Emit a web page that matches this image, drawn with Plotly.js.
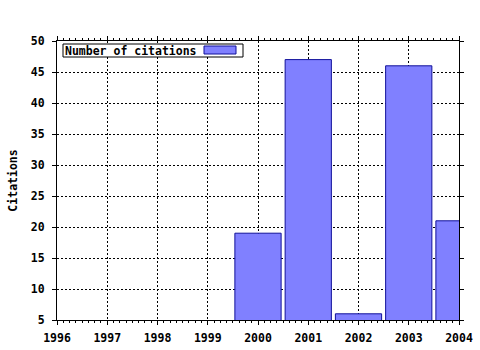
<!DOCTYPE html>
<html>
<head>
<meta charset="utf-8">
<script src="https://cdn.plot.ly/plotly-3.0.1.min.js"></script>
<style>html,body{margin:0;padding:0;background:#fff;}</style>
</head>
<body>
<div id="chart" style="width:480px;height:350px;"></div>
<script>
var years = [2000, 2001, 2002, 2003, 2004];
var citations = [19, 47, 6, 46, 21];
var xTicks = [1996, 1997, 1998, 1999, 2000, 2001, 2002, 2003, 2004];
var yTicks = [5, 10, 15, 20, 25, 30, 35, 40, 45, 50];
var seriesName = 'Number of citations';

var font = {family: 'DejaVu Sans Mono, monospace', size: 11.5, color: '#000', weight: 'bold'};

var trace = {
  type: 'bar',
  x: years,
  y: citations,
  width: 0.92,
  name: seriesName,
  marker: {color: '#8080FF', line: {color: '#10109A', width: 1}},
  showlegend: false,
  hoverinfo: 'x+y'
};

var axisCommon = {
  showline: true, linecolor: '#000', linewidth: 1, mirror: 'ticks',
  ticks: 'outside', ticklen: 4, tickcolor: '#000',
  showgrid: true, gridcolor: '#000', gridwidth: 1, griddash: '2px,2px',
  zeroline: false, tickfont: font, fixedrange: true
};

var px = function (v) { return (v - 57) / 402; };
var py = function (v) { return (320 - v) / 279; };

var layout = {
  width: 480, height: 350,
  margin: {l: 57, r: 21, t: 41, b: 30},
  paper_bgcolor: '#fff', plot_bgcolor: '#fff',
  font: font,
  bargap: 0,
  xaxis: Object.assign({}, axisCommon, {
    range: [1996, 2004], tickmode: 'array', tickvals: xTicks, ticktext: xTicks.map(String),
    ticklabelstandoff: 3,
    minor: {dtick: 0.125, ticks: 'outside', ticklen: 2, tickcolor: '#000', showgrid: false}
  }),
  yaxis: Object.assign({}, axisCommon, {
    range: [5, 50], tickmode: 'array', tickvals: yTicks, ticktext: yTicks.map(String),
    ticklabelstandoff: 5,
    title: {text: 'Citations', font: font, standoff: 10}
  }),
  annotations: [{
    xref: 'paper', yref: 'paper', x: px(64), y: py(50.5), xanchor: 'left', yanchor: 'middle',
    text: seriesName, showarrow: false, font: font, borderpad: 0
  }],
  shapes: [{
    type: 'rect', xref: 'paper', yref: 'paper',
    x0: px(63), x1: px(243), y0: py(57), y1: py(44),
    fillcolor: '#fff', line: {color: '#000', width: 1}
  }, {
    type: 'rect', xref: 'paper', yref: 'paper',
    x0: px(204), x1: px(236), y0: py(54), y1: py(46),
    fillcolor: '#8080FF', line: {color: '#10109A', width: 1}
  }]
};

Plotly.newPlot('chart', [trace], layout, {staticPlot: true, displayModeBar: false});
</script>
</body>
</html>
